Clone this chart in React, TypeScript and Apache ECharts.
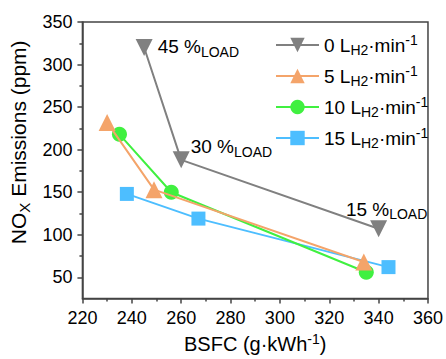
import React, { useEffect, useRef } from "react";
import * as echarts from "echarts";

const seriesNames = ["0", "5", "10", "15"];
const bsfc0 = [245, 260, 340];
const nox0 = [320, 188, 107];
const bsfc5 = [230, 249, 334];
const nox5 = [232, 153, 68];
const bsfc10 = [235, 256, 335];
const nox10 = [218, 150, 56];
const bsfc15 = [238, 267, 344];
const nox15 = [148, 119, 62];
const loadLabels = ["45 %", "30 %", "15 %"];
const yMajorTicks = [50, 100, 150, 200, 250, 300, 350];
const yMinorTicks = [75, 125, 175, 225, 275, 325];

const FONT = "Liberation Sans, Arial, sans-serif";
const AXIS = "#444";

const pairs = (xs: number[], ys: number[]) => xs.map((x, i) => [x, ys[i]]);

const rich = {
  a: { fontSize: 19, fontFamily: FONT, color: "#000", lineHeight: 24 },
  sub: { fontSize: 14, fontFamily: FONT, color: "#000", verticalAlign: "bottom", lineHeight: 14 },
  sup: { fontSize: 14, fontFamily: FONT, color: "#000", verticalAlign: "top", lineHeight: 14 },
};
const titleRich = {
  a: { fontSize: 20, fontFamily: FONT, color: "#000", lineHeight: 25 },
  sub: { fontSize: 14, fontFamily: FONT, color: "#000", verticalAlign: "bottom", lineHeight: 14 },
  sup: { fontSize: 14, fontFamily: FONT, color: "#000", verticalAlign: "top", lineHeight: 14 },
};
const yTitleRich = {
  a: { fontSize: 21, fontFamily: FONT, color: "#000", lineHeight: 26 },
  sub: { fontSize: 15, fontFamily: FONT, color: "#000", verticalAlign: "bottom", lineHeight: 15 },
};

export default function App() {
  const ref = useRef<HTMLDivElement>(null);
  useEffect(() => {
    if (!ref.current) return;
    const chart = echarts.init(ref.current, null, { renderer: "svg" });
    const labelCfgs = [
      { position: "right", distance: 5, offset: [0, -1] },
      { position: "right", distance: 1, offset: [0, -13] },
      { position: "top", distance: 1, offset: [8, 2] },
    ];
    const grayData = pairs(bsfc0, nox0).map((v, i) => ({
      value: v,
      label: {
        show: true,
        ...labelCfgs[i],
        formatter: `{a|${loadLabels[i]}}{sub|LOAD}`,
        rich,
      },
    }));
    const mk = (name: string, data: any[], color: string, symbol: string, size: number, z: number, rotate = 0) => ({
      name,
      type: "line",
      data,
      symbol,
      symbolSize: size,
      symbolRotate: rotate,
      z,
      lineStyle: { color, width: 2 },
      itemStyle: { color },
      xAxisIndex: 0,
      yAxisIndex: 0,
    });
    chart.setOption({
      animation: false,
      grid: {
        left: 82,
        right: 16,
        top: 22,
        bottom: 56,
        show: true,
        borderColor: AXIS,
        borderWidth: 1.5,
        backgroundColor: "transparent",
      },
      legend: {
        orient: "vertical",
        left: 270,
        top: 28,
        itemWidth: 43,
        itemHeight: 18,
        itemGap: 7,
        itemStyle: { borderWidth: 0 },
        formatter: (n: string) => `{a|${n} L}{sub|H2}{a|·min}{sup|-1}`,
        textStyle: { rich, fontFamily: FONT },
        data: seriesNames,
      },
      xAxis: {
        type: "value",
        min: 220,
        max: 360,
        interval: 20,
        name: "{a|BSFC (g·kWh}{sup|-1}{a|)}",
        nameLocation: "middle",
        nameGap: 30,
        nameTextStyle: { rich: titleRich },
        axisLine: { show: true, lineStyle: { color: AXIS, width: 1.5 } },
        axisTick: { show: true, inside: false, length: 5, lineStyle: { color: AXIS, width: 1.5 } },
        minorTick: { show: true, splitNumber: 2, length: 3, lineStyle: { color: AXIS, width: 1.5 } },
        splitLine: { show: false },
        axisLabel: { color: "#000", fontSize: 18, fontFamily: FONT, margin: 10 },
      },
      yAxis: [
        {
          type: "value",
          min: 25,
          max: 350,
          name: "{a|NO}{sub|X}{a| Emissions (ppm)}",
          nameLocation: "middle",
          nameGap: 44,
          nameTextStyle: { rich: yTitleRich, padding: [0, 0, 0, 36] },
          axisLine: { show: true, lineStyle: { color: AXIS, width: 1.5 } },
          axisTick: { show: true, inside: false, length: 5, customValues: yMajorTicks, lineStyle: { color: AXIS, width: 1.5 } },
          splitLine: { show: false },
          axisLabel: { color: "#000", fontSize: 18, fontFamily: FONT, margin: 10, customValues: yMajorTicks },
        },
        {
          type: "value",
          min: 25,
          max: 350,
          position: "left",
          axisLine: { show: false },
          axisTick: { show: true, inside: false, length: 3, customValues: yMinorTicks, lineStyle: { color: AXIS, width: 1.5 } },
          axisLabel: { show: false, customValues: yMinorTicks },
          splitLine: { show: false },
        },
      ],
      series: [
        mk("0", grayData, "#808080", "triangle", 17, 2, 180),
        mk("5", pairs(bsfc5, nox5), "#F4A46A", "triangle", 17, 4),
        mk("10", pairs(bsfc10, nox10), "#40F040", "circle", 15, 3),
        mk("15", pairs(bsfc15, nox15), "#4DBEFF", "rect", 14, 2),
      ],
    });
    return () => chart.dispose();
  }, []);
  return <div ref={ref} style={{ position: "absolute", left: 0, top: 0, width: 446, height: 359 }} />;
}
